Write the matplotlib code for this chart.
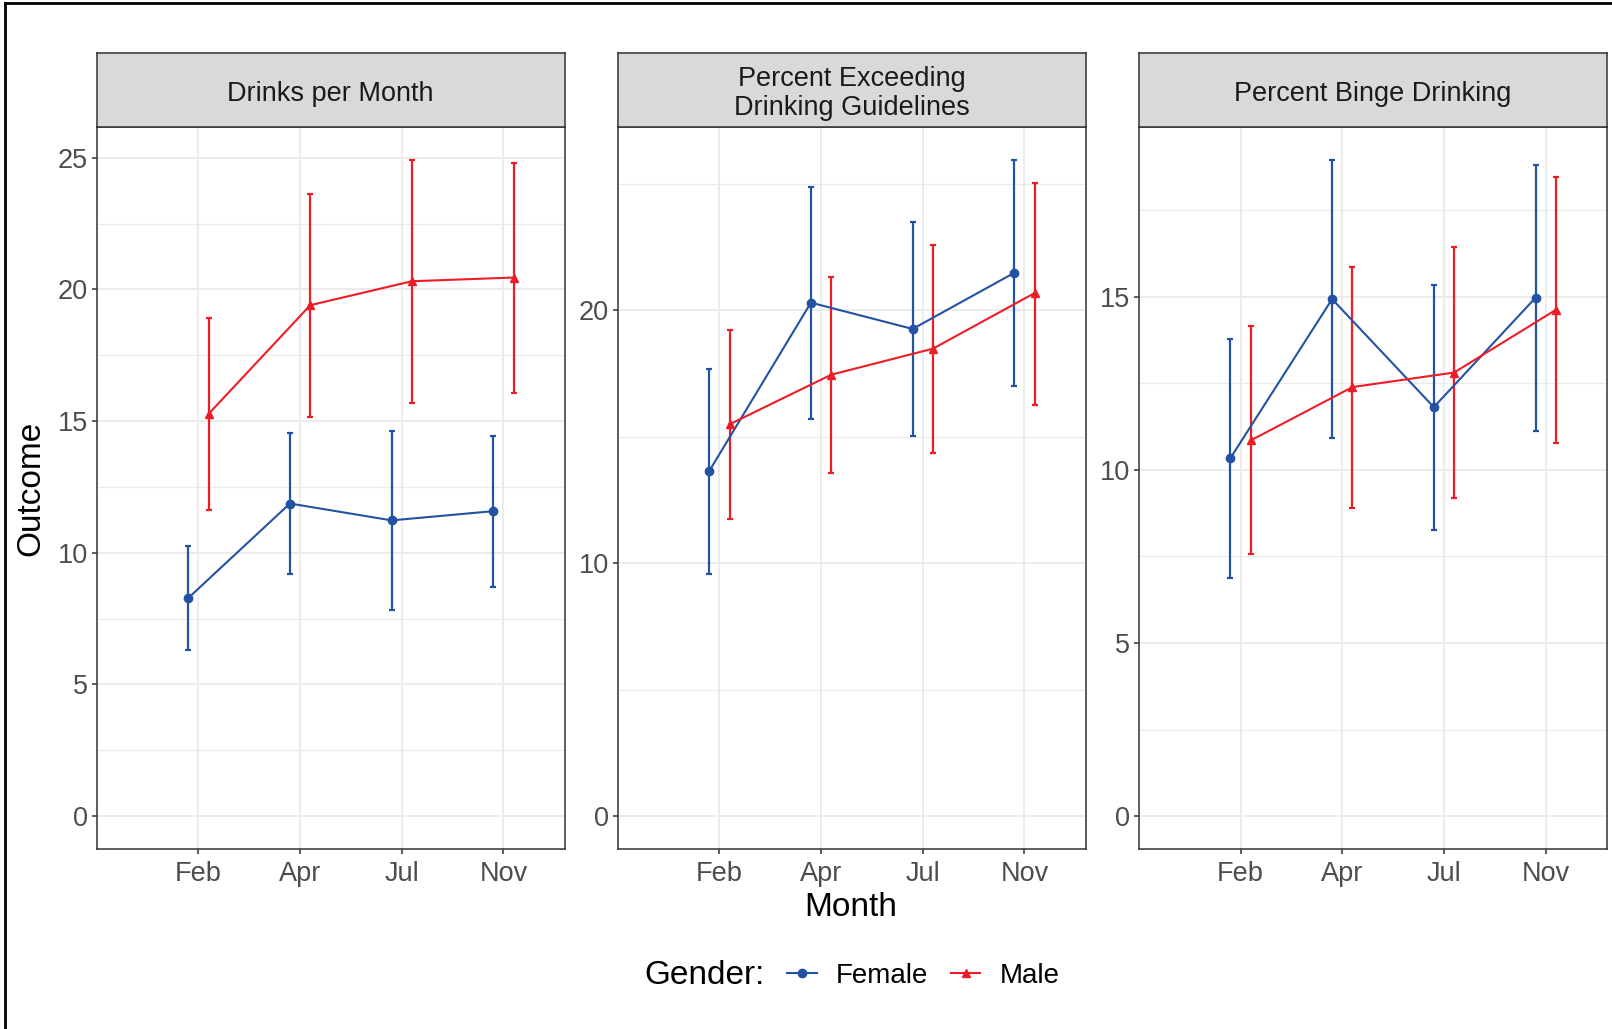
import numpy as np
import matplotlib
matplotlib.use("Agg")
import matplotlib.pyplot as plt
from matplotlib.lines import Line2D

plt.rcParams["font.family"] = ["Liberation Sans", "DejaVu Sans"]

# Data
months = ["Feb", "Apr", "Jul", "Nov"]
panel_titles = ["Drinks per Month", "Percent Exceeding\nDrinking Guidelines", "Percent Binge Drinking"]

female_mean = [[8.28, 11.87, 11.23, 11.58], [13.65, 20.31, 19.27, 21.49], [10.34, 14.93, 11.81, 14.97]]
female_lower = [[6.29, 9.20, 7.83, 8.70], [9.58, 15.72, 15.03, 17.02], [6.89, 10.92, 8.27, 11.13]]
female_upper = [[10.25, 14.54, 14.63, 14.43], [17.68, 24.90, 23.50, 25.97], [13.78, 18.96, 15.33, 18.80]]

male_mean = [[15.27, 19.40, 20.31, 20.45], [15.50, 17.46, 18.49, 20.69], [10.85, 12.39, 12.81, 14.62]]
male_lower = [[11.61, 15.17, 15.69, 16.07], [11.74, 13.58, 14.36, 16.26], [7.57, 8.90, 9.20, 10.77]]
male_upper = [[18.93, 23.64, 24.93, 24.79], [19.24, 21.34, 22.60, 25.06], [14.14, 15.86, 16.44, 18.46]]

major_steps = [5, 10, 5]

blue = "#2352A5"
red = "#EE1C25"
grid_col = "#EBEBEB"
dark = "#333333"

W, H = 1612, 1029
fig = plt.figure(figsize=(W / 100, H / 100), dpi=100)

def fx(px):
    return px / W

def fy(px):
    return 1 - px / H

panel_left = [96.7, 617.7, 1138.9]
panel_w = 467.8
panel_top, panel_bottom, strip_top = 126.7, 849.0, 53.3

x = np.arange(1, len(months) + 1)
dodge = 0.1

for i in range(3):
    ax = fig.add_axes([fx(panel_left[i]), fy(panel_bottom), panel_w / W, (panel_bottom - panel_top) / H])
    series = [
        (female_mean[i], female_lower[i], female_upper[i], blue, "o", -dodge),
        (male_mean[i], male_lower[i], male_upper[i], red, "^", dodge),
    ]
    for mean, lo, hi, col, mk, off in series:
        mean = np.array(mean)
        err = [mean - np.array(lo), np.array(hi) - mean]
        ax.errorbar(x + off, mean, yerr=err, fmt="none", ecolor=col, elinewidth=1.6,
                    capsize=2.2, capthick=1.6, zorder=3)
        ax.plot(x + off, mean, color=col, lw=1.5, marker=mk, markersize=6, zorder=4)

    top = max(female_upper[i] + male_upper[i])
    pad = 0.05 * top
    ax.set_ylim(-pad, top + pad)
    ax.set_xlim(0, 4.6)
    step = major_steps[i]
    ax.set_yticks(np.arange(0, top + pad, step))
    ax.set_yticks(np.arange(step / 2, top + pad, step), minor=True)
    ax.set_xticks(x)
    ax.set_xticklabels(months)
    ax.grid(True, which="major", color=grid_col, lw=1.3, zorder=0)
    ax.grid(True, which="minor", axis="y", color=grid_col, lw=0.8, zorder=0)
    ax.set_axisbelow(True)
    ax.tick_params(axis="both", which="major", labelsize=19.5, labelcolor="#4D4D4D",
                   color=dark, length=3.5, width=1.1, pad=3)
    ax.tick_params(axis="x", which="major", pad=5)
    ax.tick_params(axis="y", which="minor", length=0)
    for s in ax.spines.values():
        s.set_color(dark)
        s.set_linewidth(1.1)

    # facet strip
    sax = fig.add_axes([fx(panel_left[i]), fy(panel_top), panel_w / W, (panel_top - strip_top) / H])
    sax.set_facecolor("#D9D9D9")
    sax.set_xticks([])
    sax.set_yticks([])
    for s in sax.spines.values():
        s.set_color(dark)
        s.set_linewidth(1.1)
    sax.text(0.5, 0.45, panel_titles[i], ha="center", va="center", fontsize=19.5,
             color="#1A1A1A", linespacing=1.12, transform=sax.transAxes)

# axis titles
fig.text(fx(851), fy(907), "Month", ha="center", va="center", fontsize=24, color="black")
fig.text(fx(31), fy(488), "Outcome", ha="center", va="center", rotation=90, fontsize=24, color="black")

# legend
fig.text(fx(644), fy(976), "Gender:", ha="left", va="center", fontsize=24, color="black")
handles = [
    Line2D([], [], color=blue, lw=1.5, marker="o", markersize=6),
    Line2D([], [], color=red, lw=1.5, marker="^", markersize=6),
]
fig.legend(handles, ["Female", "Male"], loc="center left", bbox_to_anchor=(fx(787), fy(976)),
           ncol=2, frameon=False, fontsize=20, handlelength=1.07, handletextpad=0.7,
           columnspacing=0.8, borderpad=0, borderaxespad=0)

# outer border of the image
fig.add_artist(Line2D([fx(5), fx(5)], [fy(3), 0], color="black", lw=2, transform=fig.transFigure))
fig.add_artist(Line2D([fx(5), 1], [fy(3), fy(3)], color="black", lw=2, transform=fig.transFigure))

fig.savefig("out.png", dpi=100, facecolor="white")
